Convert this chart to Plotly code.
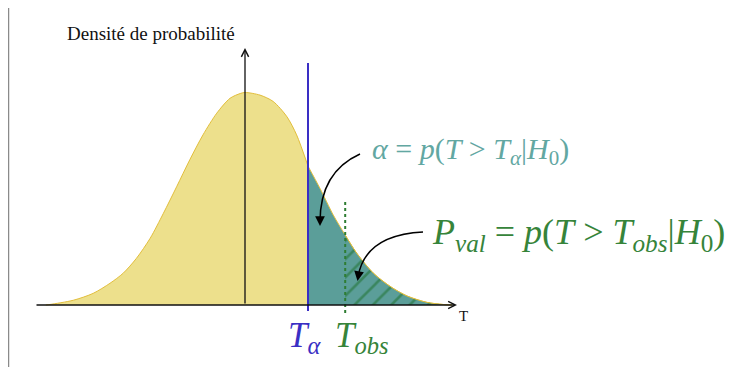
import plotly.graph_objects as go

# density curve (T in arbitrary units, peak at T = 0)
t_vals = [-3.32, -3.25, -2.86, -2.53, -2.25, -2.03, -1.81, -1.58, -1.36, -1.14,
          -0.92, -0.7, -0.47, -0.25, -0.08, 0.0, 0.25, 0.47, 0.7, 0.86, 1.05,
          1.25, 1.47, 1.67, 1.86, 2.14, 2.42, 2.7, 3.03, 3.3, 3.45]
density = [0.0, 0.001, 0.009, 0.022, 0.041, 0.06, 0.088, 0.126, 0.173, 0.223,
           0.274, 0.321, 0.362, 0.39, 0.399, 0.401, 0.396, 0.384, 0.355, 0.321,
           0.262, 0.22, 0.17, 0.132, 0.098, 0.06, 0.035, 0.017, 0.005, 0.001, 0.0]
t_alpha = 1.05
t_obs = 1.67

YELLOW = "#EDE08C"
GOLD = "#E2BE3C"
TEAL = "#5B9E99"
TEAL_TXT = "#62A7A2"
BLUE = "#3A2FC4"
GREEN = "#2E7D32"
GREEN_TXT = "#36843A"
SERIF = "Liberation Serif, DejaVu Serif, serif"

# the page adds an 8px body margin, so the figure is drawn 8px in
OFF = 8
W, H = 750 - OFF, 367 - OFF


def at(px, py):
    # pixel position in the reference picture -> data coordinates
    return (px - 245) / 60, (305 - py) / 212 * 0.4


left = [(t, d) for t, d in zip(t_vals, density) if t <= t_alpha]
mid = [(t, d) for t, d in zip(t_vals, density) if t >= t_alpha]
tail = [(t, d) for t, d in zip(t_vals, density) if t >= t_obs]

fig = go.Figure()
fig.add_trace(go.Scatter(x=[p[0] for p in left], y=[p[1] for p in left],
                         mode="lines", line=dict(color=GOLD, width=1, shape="spline", smoothing=0.8),
                         fill="tozeroy", fillcolor=YELLOW, hoverinfo="skip"))
fig.add_trace(go.Scatter(x=[p[0] for p in mid], y=[p[1] for p in mid],
                         mode="lines", line=dict(color=GOLD, width=1, shape="spline", smoothing=0.8),
                         fill="tozeroy", fillcolor=TEAL, hoverinfo="skip"))
fig.add_trace(go.Scatter(x=[p[0] for p in tail], y=[p[1] for p in tail],
                         mode="lines", line=dict(color=GOLD, width=1, shape="spline", smoothing=0.8),
                         fill="tozeroy",
                         fillpattern=dict(shape="/", size=13, solidity=0.2,
                                          fgcolor="#1A6E25", bgcolor=TEAL),
                         hoverinfo="skip"))

# threshold lines
fig.add_trace(go.Scatter(x=[t_alpha, t_alpha], y=[at(0, 311)[1], at(0, 63)[1]],
                         mode="lines", line=dict(color=BLUE, width=2), hoverinfo="skip"))
fig.add_trace(go.Scatter(x=[t_obs, t_obs], y=[at(0, 313)[1], at(0, 200)[1]],
                         mode="lines", line=dict(color=GREEN, width=2, dash="dot"),
                         hoverinfo="skip"))

shapes = []
annotations = []

# frame (left edge; the top lines sit in the page margin)
shapes.append(dict(type="line", xref="paper", yref="paper",
                   x0=(8.5 - OFF) / W, y0=1, x1=(8.5 - OFF) / W, y1=0,
                   line=dict(color="#8A8A8A", width=1.5)))

# axes with arrows
ax0 = at(35, 305)
ax1 = at(457, 305)
annotations.append(dict(x=ax1[0], y=ax1[1], ax=ax0[0], ay=ax0[1], xref="x", yref="y",
                        axref="x", ayref="y", showarrow=True, arrowhead=5,
                        arrowsize=1.1, arrowwidth=1.3, arrowcolor="#111", text=""))
ay0 = at(245, 305)
ay1 = at(245, 48)
annotations.append(dict(x=ay1[0], y=ay1[1], ax=ay0[0], ay=ay0[1], xref="x", yref="y",
                        axref="x", ayref="y", showarrow=True, arrowhead=5,
                        arrowsize=1.1, arrowwidth=1.3, arrowcolor="#111", text=""))

# curved arrows
for p0, p1, p2, off in [((360, 154), (320, 172), (320, 222), (0, -10)),
                        ((423, 232), (365, 235), (358, 277), (1.6, -10))]:
    a, b, c = at(*p0), at(*p1), at(*p2)
    shapes.append(dict(type="path", xref="x", yref="y",
                       path=f"M {a[0]},{a[1]} Q {b[0]},{b[1]} {c[0]},{c[1]}",
                       line=dict(color="black", width=1.5)))
    tip = at(p2[0] - off[0] * 0.3, p2[1] + 4)
    annotations.append(dict(x=tip[0], y=tip[1], ax=off[0], ay=off[1], xref="x", yref="y",
                            showarrow=True, arrowhead=2, arrowsize=1.3, arrowwidth=1.5,
                            arrowcolor="black", text=""))


def label(text, px, py, size, color, anchor="left"):
    annotations.append(dict(text=text, xref="paper", yref="paper",
                            x=(px - OFF) / W, y=1 - (py - OFF) / H,
                            xanchor=anchor, yanchor="middle", showarrow=False,
                            font=dict(family=SERIF, size=size, color=color)))


label("Densité de probabilité", 151, 33, 19, "#111", anchor="center")
label("T", 457, 316, 15, "#111")
label("<i>T</i><sub><i>α</i></sub>", 286, 337, 35, BLUE)
label("<i>T</i><sub><i>obs</i></sub>", 333, 337, 35, GREEN_TXT)
label("<i>α</i> = <i>p</i>(<i>T</i> &gt; <i>T</i><sub><i>α</i></sub>|<i>H</i><sub>0</sub>)",
      370, 151, 30, TEAL_TXT)
label("<i>P</i><sub><i>val</i></sub> = <i>p</i>(<i>T</i> &gt; <i>T</i><sub><i>obs</i></sub>|<i>H</i><sub>0</sub>)",
      430, 234, 36, GREEN_TXT)

fig.update_layout(
    width=W, height=H,
    margin=dict(l=0, r=0, t=0, b=0),
    paper_bgcolor="white", plot_bgcolor="white",
    showlegend=False,
    xaxis=dict(range=[at(OFF, 0)[0], at(750, 0)[0]], visible=False, fixedrange=True),
    yaxis=dict(range=[at(0, 367)[1], at(0, OFF)[1]], visible=False, fixedrange=True),
    shapes=shapes,
    annotations=annotations,
)

fig.write_html("out.html")
